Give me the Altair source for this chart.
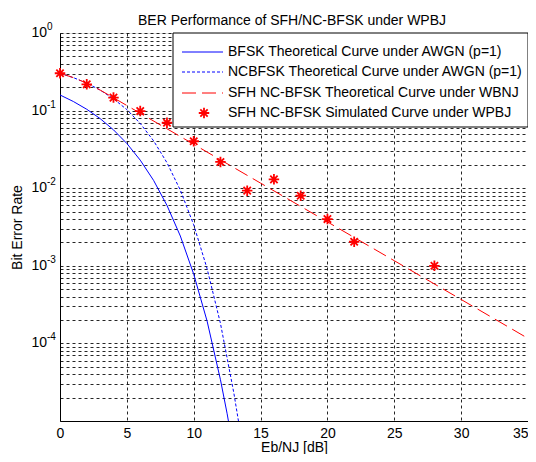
import altair as alt
import pandas as pd

# ---- data ----
snr_bfsk = [0, 1, 2, 3, 4, 5, 6, 7, 8, 9, 10, 11, 12, 12.5, 13]
ber_bfsk = [0.159, 0.131, 0.104, 0.0789, 0.0565, 0.0377, 0.0230, 0.0126, 0.0060,
            0.00242, 7.8e-4, 1.94e-4, 3.4e-5, 1.24e-5, 4.0e-6]

snr_nc = [0, 1, 2, 3, 4, 5, 6, 7, 8, 9, 10, 11, 12, 13, 13.5]
ber_nc = [0.303, 0.266, 0.226, 0.184, 0.142, 0.103, 0.0683, 0.0408, 0.0213,
          0.00942, 0.00337, 9.2e-4, 1.81e-4, 2.3e-5, 6.9e-6]

snr_wbnj = [0, 1, 2, 3, 5, 10, 15, 20, 25, 30, 35]
ber_wbnj = [0.303, 0.266, 0.226, 0.184, 0.1163, 0.0368, 0.01163, 0.00368,
            0.001163, 3.68e-4, 1.16e-4]

snr_sim = [0, 2, 4, 6, 8, 10, 12, 14, 16, 18, 20, 22, 28]
ber_sim = [0.303, 0.218, 0.147, 0.0986, 0.0697, 0.0403, 0.0218, 0.0093, 0.013,
           0.008, 0.004, 0.00204, 0.001]

x_ticks = [0, 5, 10, 15, 20, 25, 30, 35]
decades = [1, 0.1, 0.01, 0.001, 0.0001]
decade_exps = ["0", "-1", "-2", "-3", "-4"]
y_grid = [m * 10.0 ** e for e in range(-5, 0) for m in range(1, 10)] + [1.0]

title_text = "BER Performance of SFH/NC-BFSK under WPBJ"
legend_labels = [
    "BFSK Theoretical Curve under AWGN (p=1)",
    "NCBFSK Theoretical Curve under AWGN (p=1)",
    "SFH NC-BFSK Theoretical Curve under WBNJ",
    "SFH NC-BFSK Simulated Curve under WPBJ",
]

FONT = "Liberation Sans"
W, H = 468, 388

xscale = alt.Scale(domain=[0, 35], nice=False, zero=False)
yscale = alt.Scale(type="log", domain=[1e-5, 1], nice=False)

df_bfsk = pd.DataFrame({"x": snr_bfsk, "y": ber_bfsk})
df_nc = pd.DataFrame({"x": snr_nc, "y": ber_nc})
df_wbnj = pd.DataFrame({"x": snr_wbnj, "y": ber_wbnj})
df_sim = pd.DataFrame({"x": snr_sim, "y": ber_sim})
df_dec = pd.DataFrame({"y": decades, "e": decade_exps})

xaxis = alt.Axis(values=x_ticks, grid=True, gridDash=[3, 3], gridColor="black",
                 gridOpacity=0.85, ticks=False, domainColor="black", labelFlush=False,
                 labelAlign={"condition": {"test": "datum.value >= 35", "value": "right"},
                             "value": "center"},
                 labelFont=FONT, labelFontSize=14, labelColor="black", labelPadding=5,
                 title="Eb/NJ [dB]", titleFont=FONT, titleFontSize=14,
                 titleFontWeight="normal", titleColor="black", titlePadding=0)
yaxis = alt.Axis(values=y_grid, grid=True, gridDash=[3, 3], gridColor="black",
                 gridOpacity=0.85, ticks=False, labels=False, domainColor="black",
                 title="Bit Error Rate", titleFont=FONT, titleFontSize=14,
                 titleFontWeight="normal", titleColor="black", titlePadding=36)

bfsk = alt.Chart(df_bfsk).mark_line(color="#0000ff", strokeWidth=1, clip=True).encode(
    x=alt.X("x:Q", scale=xscale, axis=xaxis),
    y=alt.Y("y:Q", scale=yscale, axis=yaxis),
)
nc = alt.Chart(df_nc).mark_line(color="#0000ff", strokeWidth=1, strokeDash=[3, 2], clip=True).encode(
    x=alt.X("x:Q", scale=xscale), y=alt.Y("y:Q", scale=yscale))
wbnj = alt.Chart(df_wbnj).mark_line(color="#ff0000", strokeWidth=1, strokeDash=[14, 6], clip=True).encode(
    x=alt.X("x:Q", scale=xscale), y=alt.Y("y:Q", scale=yscale))

STAR = "M-1,0L1,0M0,-1L0,1M-0.7,-0.7L0.7,0.7M-0.7,0.7L0.7,-0.7"
sim = alt.Chart(df_sim).mark_point(shape=STAR, color="#ff0000", filled=False,
                                    strokeWidth=1.8, size=110, opacity=1).encode(
    x=alt.X("x:Q", scale=xscale), y=alt.Y("y:Q", scale=yscale))

# y tick labels "10^k" drawn as base + raised exponent
lab_base = alt.Chart(df_dec).mark_text(text="10", align="right", baseline="middle",
                                       font=FONT, fontSize=14, color="black").encode(
    x=alt.value(-13), y=alt.Y("y:Q", scale=yscale))
lab_exp = alt.Chart(df_dec).mark_text(align="left", baseline="middle", dy=-6,
                                      font=FONT, fontSize=10, color="black").encode(
    x=alt.value(-13), y=alt.Y("y:Q", scale=yscale), text="e:N")

one = pd.DataFrame({"a": [0]})
title_mark = alt.Chart(one).mark_text(text=title_text, align="center", baseline="alphabetic",
                                      font=FONT, fontSize=14, color="black").encode(
    x=alt.value(232), y=alt.value(-8))

# legend
LX0, LX1 = 113, 468
legend_box = alt.Chart(one).mark_rect(fill="white", stroke="black", strokeWidth=1).encode(
    x=alt.value(LX0), x2=alt.value(LX1), y=alt.value(0), y2=alt.value(94))
rows_y = [19, 39, 60, 80]
styles = [dict(color="#0000ff"), dict(color="#0000ff", strokeDash=[3, 2]),
          dict(color="#ff0000", strokeDash=[14, 6])]
legend_layers = [legend_box]
for yy, st in zip(rows_y[:3], styles):
    legend_layers.append(alt.Chart(one).mark_rule(strokeWidth=1, **st).encode(
        x=alt.value(122), x2=alt.value(163), y=alt.value(yy)))
legend_layers.append(alt.Chart(one).mark_point(shape=STAR, color="#ff0000", filled=False,
                                               strokeWidth=1.8, size=110, opacity=1).encode(
    x=alt.value(144), y=alt.value(rows_y[3])))
for yy, lab in zip(rows_y, legend_labels):
    legend_layers.append(alt.Chart(one).mark_text(text=lab, align="left", baseline="middle",
                                                  font=FONT, fontSize=14, color="black").encode(
        x=alt.value(168), y=alt.value(yy)))

chart = alt.layer(bfsk, nc, wbnj, sim, lab_base, lab_exp, title_mark, *legend_layers).properties(
    width=W, height=H,
    autosize=alt.AutoSizeParams(type="none"),
    padding={"left": 52, "top": 25, "right": 0, "bottom": 33},
).configure_view(stroke="black", strokeWidth=1).configure(background="white")

chart.save("out.html", embed_options={"renderer": "svg", "actions": False})
